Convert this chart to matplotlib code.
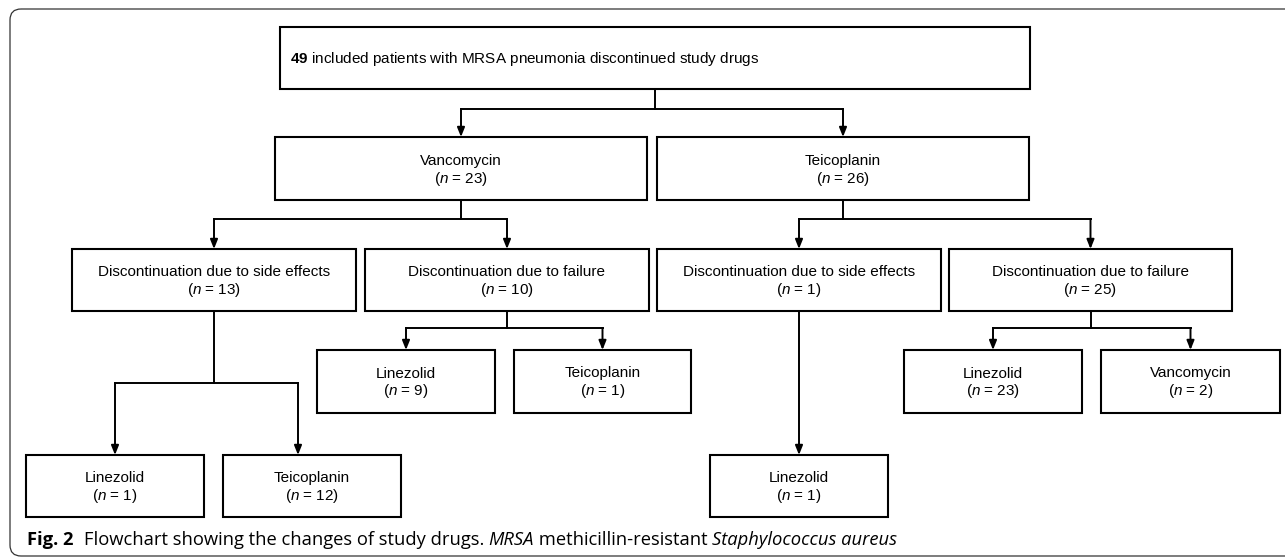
import matplotlib
matplotlib.use("Agg")
import matplotlib.pyplot as plt
from matplotlib import font_manager
from matplotlib.patches import Rectangle, FancyBboxPatch

# flowchart content
top_count = 49
top_text = "included patients with MRSA pneumonia discontinued study drugs"
labels = ["Vancomycin", "Teicoplanin",
          "Discontinuation due to side effects", "Discontinuation due to failure",
          "Discontinuation due to side effects", "Discontinuation due to failure",
          "Linezolid", "Teicoplanin", "Linezolid", "Teicoplanin",
          "Linezolid", "Linezolid", "Vancomycin"]
counts = [23, 26, 13, 10, 1, 25, 1, 12, 9, 1, 1, 23, 2]
# parent -> children ("top" is the first box)
links = {"top": [0, 1], 0: [2, 3], 1: [4, 5], 2: [6, 7], 3: [8, 9],
         4: [10], 5: [11, 12]}

# layout (pixels: x0, y0, x1, y1)
top_box = (280, 27, 1030, 89)
boxes = [(275, 137, 647, 200), (657, 137, 1029, 200),
         (72, 249, 356, 311), (365, 249, 649, 311),
         (657, 249, 941, 311), (949, 249, 1232, 311),
         (26, 455, 204, 517), (223, 455, 401, 517),
         (317, 350, 495, 413), (514, 350, 691, 413),
         (710, 455, 888, 517),
         (904, 350, 1082, 413), (1101, 350, 1280, 413)]
# y of horizontal bar for each parent
bar_y = {"top": 109, 0: 219, 1: 219, 2: 383, 3: 328, 5: 328}
arrow_dx = {7: -14}

names = {f.name for f in font_manager.fontManager.ttflist}
box_font = "Liberation Sans Narrow" if "Liberation Sans Narrow" in names else "Liberation Sans"
plt.rcParams["mathtext.fontset"] = "custom"
plt.rcParams["mathtext.rm"] = box_font
plt.rcParams["mathtext.it"] = box_font + ":italic"
plt.rcParams["mathtext.bf"] = box_font + ":bold"

W, H = 1285, 558
fig = plt.figure(figsize=(W / 100, H / 100), dpi=100)
ax = fig.add_axes([0, 0, 1, 1])
ax.set_xlim(0, W)
ax.set_ylim(H, 0)
ax.axis("off")

# outer frame
frame = FancyBboxPatch((10, 9), 1320, 547, boxstyle="round,pad=0,rounding_size=11",
                       fc="none", ec="#333333", lw=0.9, clip_on=True)
ax.add_patch(frame)

def draw_box(b):
    ax.add_patch(Rectangle((b[0], b[1]), b[2] - b[0], b[3] - b[1],
                           fc="white", ec="black", lw=1.5, zorder=2))

fs = 11
draw_box(top_box)
ax.text(top_box[0] + 10, (top_box[1] + top_box[3]) / 2 + 1,
        r"$\mathbf{%d}$ %s" % (top_count, top_text), fontsize=fs,
        family=box_font, ha="left", va="center", zorder=3)

for b, lab, n in zip(boxes, labels, counts):
    draw_box(b)
    cx, cy = (b[0] + b[2]) / 2, (b[1] + b[3]) / 2
    ax.text(cx, cy - 8, lab, fontsize=fs, family=box_font,
            ha="center", va="center", zorder=3)
    ax.text(cx, cy + 10, r"($\mathit{n}$ = %d)" % n, fontsize=fs, family=box_font,
            ha="center", va="center", zorder=3)

def arrow(x, y0, y1):
    ax.annotate("", xy=(x, y1), xytext=(x, y0),
                arrowprops=dict(arrowstyle="-|>,head_length=0.55,head_width=0.22",
                                color="black", lw=1.4, shrinkA=0, shrinkB=0),
                zorder=1)

for parent, kids in links.items():
    pb = top_box if parent == "top" else boxes[parent]
    px = (pb[0] + pb[2]) / 2
    xs = [(boxes[k][0] + boxes[k][2]) / 2 + arrow_dx.get(k, 0) for k in kids]
    if len(kids) == 1:
        arrow(xs[0], pb[3], boxes[kids[0]][1])
        continue
    y = bar_y[parent]
    ax.plot([px, px], [pb[3], y], color="black", lw=1.4, zorder=1)
    ax.plot([xs[0], xs[-1]], [y, y], color="black", lw=1.4, zorder=1,
            solid_capstyle="projecting")
    for k, x in zip(kids, xs):
        arrow(x, y, boxes[k][1])

# caption
fig.canvas.draw()
r = fig.canvas.get_renderer()
cap = [("Fig. 2", "bold", "normal", 10), ("Flowchart showing the changes of study drugs. ", "normal", "normal", 0),
       ("MRSA", "normal", "italic", 0), (" methicillin-resistant ", "normal", "normal", 0),
       ("Staphylococcus aureus", "normal", "italic", 0)]
x = 27
for s, wgt, sty, gap in cap:
    t = ax.text(x, 540, s, fontsize=13.2, family="Open Sans", weight=wgt, style=sty,
                ha="left", va="center")
    bb = t.get_window_extent(renderer=r)
    x += bb.width + gap

fig.savefig("out.png", dpi=100)
